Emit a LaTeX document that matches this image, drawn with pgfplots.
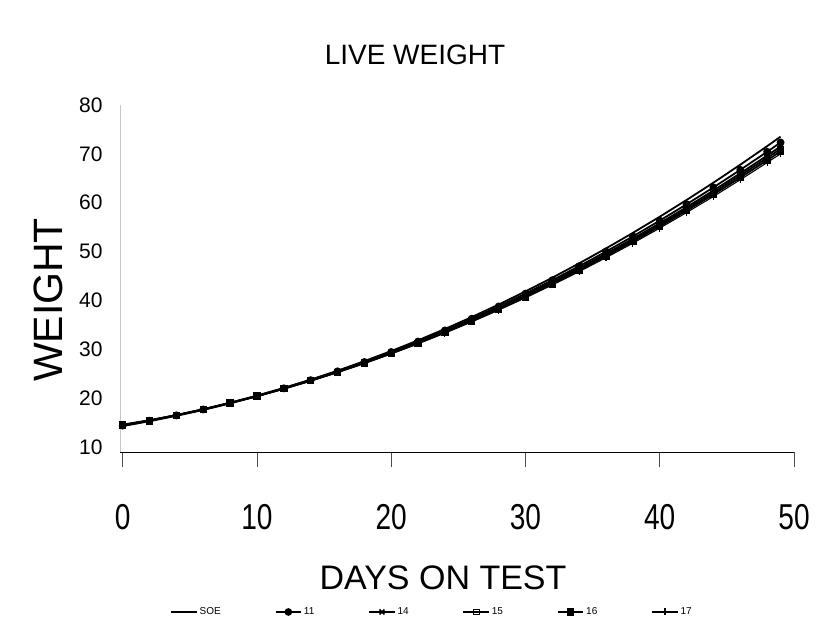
\documentclass[border=0pt]{standalone}
\usepackage{fontspec}
\setmainfont{Liberation Sans}
\newfontfamily\narrowsf[FakeStretch=0.78]{Liberation Sans}
\usepackage{pgfplots}
\pgfplotsset{compat=1.18}
\usepackage{pgfplotstable}

% columns: day, then one column per treatment
\pgfplotstableread{
day  a     b     c     d     e     f
0    14.50 14.40 14.60 14.30 14.50 14.40
2    15.46 15.40 15.50 15.30 15.45 15.40
4    16.55 16.50 16.55 16.40 16.53 16.48
6    17.75 17.70 17.72 17.60 17.71 17.68
8    19.09 19.04 19.04 18.95 19.01 18.98
10   20.54 20.45 20.46 20.40 20.42 20.39
12   22.12 22.03 22.00 21.96 21.94 21.91
14   23.82 23.70 23.66 23.62 23.58 23.53
16   25.64 25.50 25.43 25.38 25.32 25.27
18   27.59 27.42 27.32 27.25 27.18 27.12
20   29.66 29.46 29.33 29.24 29.16 29.08
22   31.85 31.60 31.45 31.35 31.25 31.14
24   34.17 33.88 33.69 33.57 33.45 33.33
26   36.61 36.27 36.05 35.91 35.77 35.62
28   39.17 38.78 38.52 38.35 38.19 38.03
30   41.86 41.41 41.11 40.92 40.74 40.55
32   44.67 44.16 43.82 43.60 43.39 43.18
34   47.60 47.02 46.64 46.40 46.16 45.91
36   50.66 50.01 49.58 49.31 49.04 48.77
38   53.84 53.12 52.64 52.34 52.04 51.73
40   57.14 56.34 55.81 55.47 55.14 54.81
42   60.57 59.69 59.10 58.73 58.37 58.00
44   64.11 63.14 62.50 62.09 61.69 61.29
46   67.79 66.73 66.03 65.59 65.15 64.71
48   71.58 70.43 69.66 69.18 68.70 68.22
49   73.53 72.33 71.53 71.03 70.53 70.03
}\lw

\begin{document}
\begin{tikzpicture}
\path[use as bounding box, fill=white] (0,0) rectangle (817pt,638pt);
\begin{axis}[
  scale only axis, width=674pt, height=347pt,
  at={(120pt,186pt)}, anchor=south west,
  xmin=-0.2, xmax=50, ymin=9, ymax=80,
  axis x line*=bottom, axis y line*=left,
  x axis line style={-, black, line width=1pt},
  y axis line style={-, gray!45, line width=0.8pt},
  xtick={0,10,...,50}, ytick={10,20,...,80},
  tick align=outside,
  major tick length=15pt,
  xtick style={black!70, line width=0.8pt},
  ytick style={draw=none},
  /pgf/number format/assume math mode=true,
  xticklabel style={font=\narrowsf\fontsize{36}{36}\selectfont, yshift=-34pt},
  yticklabel style={font=\fontsize{21}{21}\selectfont, xshift=1pt},
  legend columns=6,
  legend style={draw=none, fill=none, font=\fontsize{10}{10}\selectfont,
    at={(0.463,-0.461)}, anchor=center,
    /tikz/every even column/.append style={column sep=52pt}},
  legend image code/.code={%
    \draw[mark repeat=2,mark phase=2] plot coordinates {(0cm,0cm) (0.45cm,0cm) (0.9cm,0cm)};},
  legend image post style={line width=1.6pt},
  every axis plot/.append style={black, line width=1.8pt},
]
\addplot[no marks] table[x=day,y=a] {\lw};
\addlegendentry{SOE}
\addplot[mark=*, mark size=3pt] table[x=day,y=b] {\lw};
\addlegendentry{11}
\addplot[mark=x, mark size=3.5pt] table[x=day,y=c] {\lw};
\addlegendentry{14}
\addplot[mark=square, mark size=2.8pt, mark options={line width=1pt}] table[x=day,y=d] {\lw};
\addlegendentry{15}
\addplot[mark=square*, mark size=2.8pt] table[x=day,y=e] {\lw};
\addlegendentry{16}
\addplot[mark=|, mark size=3.5pt, line width=1.1pt] table[x=day,y=f] {\lw};
\addlegendentry{17}
\end{axis}
\node[font=\fontsize{28}{28}\selectfont] at (415pt,583pt) {LIVE WEIGHT};
\node[font=\fontsize{34}{34}\selectfont] at (443pt,60pt) {DAYS ON TEST};
\node[font=\fontsize{41}{41}\selectfont, rotate=90] at (48pt,338pt) {WEIGHT};
\end{tikzpicture}
\end{document}
